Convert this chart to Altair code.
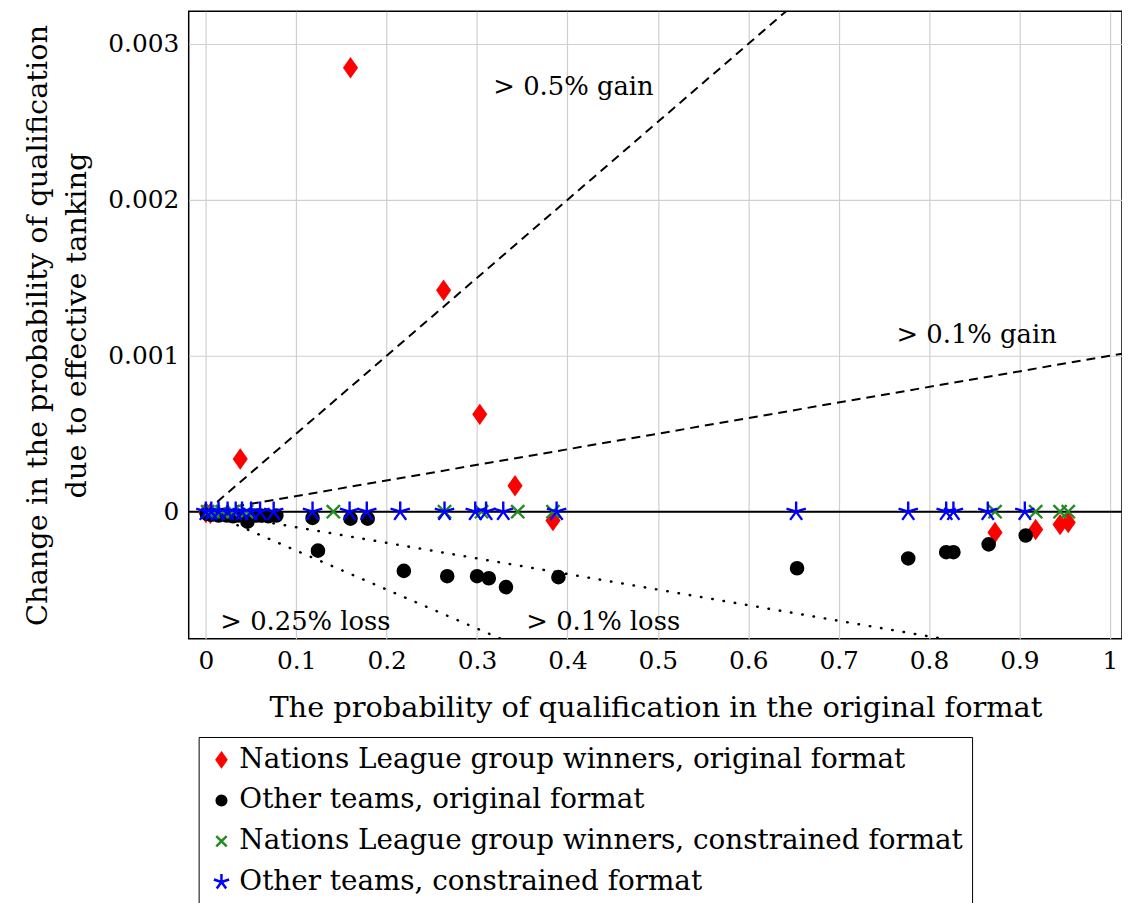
import altair as alt
import pandas as pd

# ---- data ----
series = [
    "Nations League group winners, original format",
    "Other teams, original format",
    "Nations League group winners, constrained format",
    "Other teams, constrained format",
]
colors = ["#ff0000", "#000000", "#228b22", "#0000ff"]

red_x = [0.000, 0.005, 0.038, 0.160, 0.263, 0.303, 0.342, 0.384, 0.873, 0.918, 0.945, 0.954]
red_y = [-0.000006, -0.00001, 0.000338, 0.002847, 0.00142, 0.000624, 0.000166, -0.000057,
         -0.000134, -0.000115, -0.000083, -0.00007]

black_x = [0.001, 0.006, 0.014, 0.023, 0.030, 0.036, 0.046, 0.056, 0.061, 0.069, 0.078,
           0.118, 0.124, 0.160, 0.179, 0.219, 0.267, 0.300, 0.313, 0.332, 0.390,
           0.654, 0.777, 0.819, 0.827, 0.866, 0.907]
black_y = [-0.000013, -0.00002, -0.000025, -0.000025, -0.00003, -0.000025, -0.000064, -0.000025,
           -0.000025, -0.00003, -0.000025, -0.00004, -0.00025, -0.000045, -0.000045, -0.00038,
           -0.000414, -0.000414, -0.000427, -0.000484, -0.00042, -0.000363, -0.0003, -0.00026,
           -0.00026, -0.00021, -0.000153]

green_x = [0.002, 0.008, 0.018, 0.030, 0.045, 0.141, 0.264, 0.305, 0.345, 0.384, 0.873, 0.918, 0.945, 0.954]
green_y = [0.0, 0.0, 0.0, 0.0, 0.0, 0.0, 0.0, 0.0, 0.0, 0.0, 0.0, 0.0, 0.0, 0.0]

blue_x = [0.000, 0.006, 0.014, 0.024, 0.033, 0.040, 0.050, 0.060, 0.075, 0.118, 0.159, 0.178,
          0.215, 0.264, 0.298, 0.310, 0.329, 0.388, 0.653, 0.777, 0.819, 0.827, 0.865, 0.906]
blue_y = [0.0, 0.0, 0.0, 0.0, 0.0, 0.0, 0.0, 0.0, 0.0, 0.0, 0.0, 0.0,
          0.0, 0.0, 0.0, 0.0, 0.0, 0.0, 0.0, 0.0, 0.0, 0.0, 0.0, 0.0]

gain_slopes = [0.005, 0.001]
loss_slopes = [-0.001, -0.0025]
line_x_ends = [0.0, 1.1]

ann_text = ["> 0.5% gain", "> 0.1% gain", "> 0.25% loss", "> 0.1% loss"]
ann_x = [0.318, 0.764, 0.016, 0.3545]
ann_y = [0.002726, 0.001134, -0.000707, -0.000707]

x_ticks = [0, 0.1, 0.2, 0.3, 0.4, 0.5, 0.6, 0.7, 0.8, 0.9, 1]
y_ticks = [0, 0.001, 0.002, 0.003]

# ---- tables ----
rows = []
for s, xs_, ys_ in zip(series, [red_x, black_x, green_x, blue_x], [red_y, black_y, green_y, blue_y]):
    for a, b in zip(xs_, ys_):
        rows.append({"series": s, "x": a, "y": b, "idx": len(rows)})
pts = pd.DataFrame(rows)

def line_df(slopes, prefix):
    r = []
    for i, k in enumerate(slopes):
        for xe in line_x_ends:
            r.append({"line": f"{prefix}{i}", "x": xe, "y": k * xe})
    return pd.DataFrame(r)

gain_df = line_df(gain_slopes, "g")
loss_df = line_df(loss_slopes, "l")
ann_df = pd.DataFrame({"t": ann_text, "x": ann_x, "y": ann_y})

FONT = "DejaVu Serif"

xs = alt.Scale(domain=[-0.019, 1.0135], nice=False, zero=False)
ys = alt.Scale(domain=[-0.000815, 0.00321], nice=False, zero=False)

X = alt.X("x:Q", scale=xs, axis=alt.Axis(
    values=x_ticks, format="~g", title="The probability of qualification in the original format",
    labelPadding=10, titlePadding=20))
Y = alt.Y("y:Q", scale=ys, axis=alt.Axis(
    values=y_ticks, format="~g",
    title=["Change in the probability of qualification", "due to effective tanking"],
    labelPadding=10, titlePadding=16, titleLineHeight=40))

shapes = [
    "M0,-0.85L0.6,0L0,0.85L-0.6,0Z",
    "M0.6,0A0.6,0.6,0,1,1,-0.6,0A0.6,0.6,0,1,1,0.6,0Z",
    "M-0.65,-0.65L0.65,0.65M-0.65,0.65L0.65,-0.65",
    "M0,0L0,-1M0,0L0.951,-0.309M0,0L0.588,0.809M0,0L-0.588,0.809M0,0L-0.951,-0.309",
]

leg = alt.Legend(title=None, orient="none", legendX=10, legendY=731,
                 labelFont=FONT, labelFontSize=28, symbolSize=260, symbolStrokeWidth=2.5,
                 strokeColor="black", fillColor="white", padding=9, rowPadding=13,
                 labelOffset=4, labelLimit=900)

points = alt.Chart(pts).mark_point(filled=True, size=420, strokeWidth=2.4, opacity=1, clip=True).encode(
    x=X, y=Y,
    shape=alt.Shape("series:N", scale=alt.Scale(domain=series, range=shapes), legend=leg),
    fill=alt.Fill("series:N", scale=alt.Scale(domain=series, range=colors), legend=leg),
    stroke=alt.Stroke("series:N", scale=alt.Scale(domain=series, range=colors), legend=leg),
    order=alt.Order("idx:Q"),
)

gain = alt.Chart(gain_df).mark_line(color="black", strokeWidth=2, strokeDash=[9, 6], clip=True).encode(
    x=X, y=Y, detail="line:N")
loss = alt.Chart(loss_df).mark_line(color="black", strokeWidth=2.5, strokeDash=[0.5, 11],
                                    strokeCap="round", clip=True).encode(x=X, y=Y, detail="line:N")
zero = alt.Chart(pd.DataFrame({"y": [0.0]})).mark_rule(color="black", strokeWidth=2).encode(y=Y)
ann = alt.Chart(ann_df).mark_text(align="left", baseline="middle", font=FONT, fontSize=26,
                                  color="black").encode(x=X, y=Y, text="t:N")

chart = alt.layer(gain, loss, zero, points, ann).properties(
    width=940, height=632,
    background="white",
    autosize=alt.AutoSizeParams(type="none"),
    padding={"left": 182, "top": 0, "right": 0, "bottom": 270},
).configure_view(stroke="black", strokeWidth=1.5).configure_axis(
    labelFont=FONT, titleFont=FONT, labelFontSize=25, titleFontSize=29,
    titleFontWeight="normal", labelColor="black", titleColor="black",
    domain=False, ticks=False, grid=True, gridColor="#cfcfcf", gridWidth=1.2,
)

chart.save("out.html", embed_options={"renderer": "svg", "actions": False})
